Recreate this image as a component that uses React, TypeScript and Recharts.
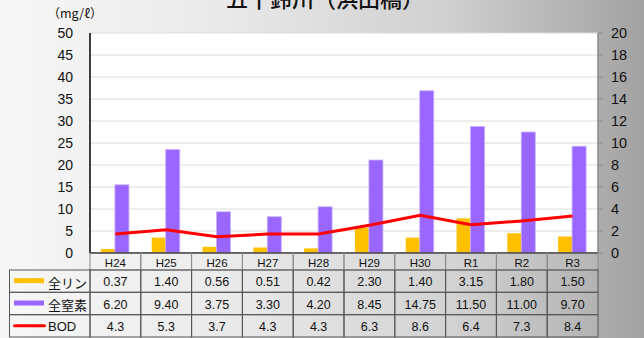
import React from 'react'
import {
  ComposedChart,
  Bar,
  Line,
  XAxis,
  YAxis,
  CartesianGrid
} from 'recharts'

// 年度
const categories = ['H24', 'H25', 'H26', 'H27', 'H28', 'H29', 'H30', 'R1', 'R2', 'R3']
// 全リン (右軸)
const totalP = [0.37, 1.4, 0.56, 0.51, 0.42, 2.3, 1.4, 3.15, 1.8, 1.5]
// 全窒素 (右軸)
const totalN = [6.2, 9.4, 3.75, 3.3, 4.2, 8.45, 14.75, 11.5, 11.0, 9.7]
// BOD (左軸)
const bod = [4.3, 5.3, 3.7, 4.3, 4.3, 6.3, 8.6, 6.4, 7.3, 8.4]

const leftTicks = [0, 5, 10, 15, 20, 25, 30, 35, 40, 45, 50]
const rightTicks = [0, 2, 4, 6, 8, 10, 12, 14, 16, 18, 20]

const seriesNames = ['全リン', '全窒素', 'BOD']

const data = categories.map((c, i) => ({
  cat: c,
  p: totalP[i],
  n: totalN[i],
  bod: bod[i]
}))

const COL_W = 508 / categories.length
const LEGEND_W = 80.5
const ROWS = [0, 17, 39.3, 61.7, 84] // header + 3 rows, relative to axis line
const BORDER = '#555'
const NUM_FONT = '"Liberation Sans", Arial, sans-serif'
const JP_FONT = '"Noto Sans CJK JP", sans-serif'

const fmt = (v: number, digits: number) => v.toFixed(digits)

const TableColumn = (props: any) => {
  const { x, y, payload } = props
  const i = categories.indexOf(payload.value)
  const left = x - COL_W / 2
  const rowVals = [fmt(totalP[i], 2), fmt(totalN[i], 2), fmt(bod[i], 1)]

  return (
    <g>
      {/* header cell */}
      <rect x={left} y={y} width={COL_W} height={ROWS[1]} fill="rgba(255,255,255,0.12)" stroke="#8a8a8a" strokeWidth={1} />
      <text x={x} y={y + ROWS[1] / 2 + 1} textAnchor="middle" dominantBaseline="central" fontSize={11.5} fontFamily={NUM_FONT} fill="#111">
        {payload.value}
      </text>
      {rowVals.map((v, r) => (
        <g key={r}>
          <rect
            x={left}
            y={y + ROWS[r + 1]}
            width={COL_W}
            height={ROWS[r + 2] - ROWS[r + 1]}
            fill="rgba(255,255,255,0.08)"
            stroke={BORDER}
            strokeWidth={1}
          />
          <text
            x={x}
            y={y + (ROWS[r + 1] + ROWS[r + 2]) / 2 + 1}
            textAnchor="middle"
            dominantBaseline="central"
            fontSize={12.5}
            fontFamily={NUM_FONT}
            fill="#111"
          >
            {v}
          </text>
        </g>
      ))}
      {i === 0 && (
        <g>
          {seriesNames.map((name, r) => {
            const top = y + ROWS[r + 1]
            const h = ROWS[r + 2] - ROWS[r + 1]
            const lx = left - LEGEND_W
            const cy = top + h / 2
            return (
              <g key={name}>
                <rect x={lx} y={top} width={LEGEND_W} height={h} fill="rgba(255,255,255,0.08)" stroke={BORDER} strokeWidth={1} />
                {r < 2 ? (
                  <rect x={lx + 4.5} y={cy - 3} width={30} height={5} fill={r === 0 ? '#FFC000' : '#9966FF'} />
                ) : (
                  <line x1={lx + 5} x2={lx + 35} y1={cy} y2={cy} stroke="#FF0000" strokeWidth={3} strokeLinecap="round" />
                )}
                <text
                  x={lx + 38.5}
                  y={cy + 1}
                  dominantBaseline="central"
                  fontSize={13}
                  fontFamily={r < 2 ? JP_FONT : NUM_FONT}
                  fill="#111"
                >
                  {name}
                </text>
              </g>
            )
          })}
        </g>
      )}
    </g>
  )
}

export default function App() {
  return (
    <div
      style={{
        position: 'absolute',
        left: 0,
        top: 0,
        width: 644,
        height: 338,
        overflow: 'hidden',
        background: 'linear-gradient(90deg, #f7f7f7 0%, #e9e9e9 35%, #cfcfcf 70%, #a2a2a2 100%)'
      }}
    >
      <svg width={644} height={338} style={{ position: 'absolute', left: 0, top: 0 }}>
        <text x={325} y={7} textAnchor="middle" fontSize={22} fontWeight={500} fontFamily={JP_FONT} fill="#111">
          五十鈴川（浜田橋）
        </text>
        <text x={75} y={18} textAnchor="middle" fontSize={12.5} fontFamily={JP_FONT} fill="#111">
          （mg/ℓ）
        </text>
      </svg>
      <div style={{ position: 'absolute', left: 0, top: 0 }}>
        <ComposedChart
          width={644}
          height={338}
          data={data}
          margin={{ top: 33, right: 6, bottom: 0, left: 30 }}
          barGap={0}
          barCategoryGap="21.5%"
        >
          <CartesianGrid yAxisId="left" vertical={false} stroke="#dcdcdc" fill="#ffffff" />
          <XAxis
            dataKey="cat"
            interval={0}
            height={85}
            axisLine={{ stroke: '#000', strokeWidth: 1.5 }}
            tickLine={false}
            tickSize={0}
            tickMargin={0}
            tick={<TableColumn />}
          />
          <YAxis
            yAxisId="left"
            width={60}
            domain={[0, 50]}
            ticks={leftTicks}
            interval={0}
            axisLine={{ stroke: '#000', strokeWidth: 1.5 }}
            tickLine={false}
            tickSize={0}
            tickMargin={17}
            tick={{ fontSize: 14, fill: '#111', fontFamily: NUM_FONT }}
          />
          <YAxis
            yAxisId="right"
            orientation="right"
            width={40}
            domain={[0, 20]}
            ticks={rightTicks}
            interval={0}
            axisLine={{ stroke: '#8a8a8a', strokeWidth: 1.5 }}
            tickLine={{ stroke: '#8a8a8a' }}
            tickSize={5}
            tickMargin={8}
            tick={{ fontSize: 14.5, fill: '#111', fontFamily: NUM_FONT, textAnchor: 'start' }}
          />
          <Bar yAxisId="right" dataKey="p" name="全リン" fill="#FFC000" isAnimationActive={false} />
          <Bar yAxisId="right" dataKey="n" name="全窒素" fill="#9966FF" stroke="#c6adff" strokeWidth={0.8} isAnimationActive={false} />
          <Line
            yAxisId="left"
            type="linear"
            dataKey="bod"
            name="BOD"
            stroke="#FF0000"
            strokeWidth={3}
            dot={false}
            activeDot={false}
            isAnimationActive={false}
          />
        </ComposedChart>
      </div>
    </div>
  )
}
